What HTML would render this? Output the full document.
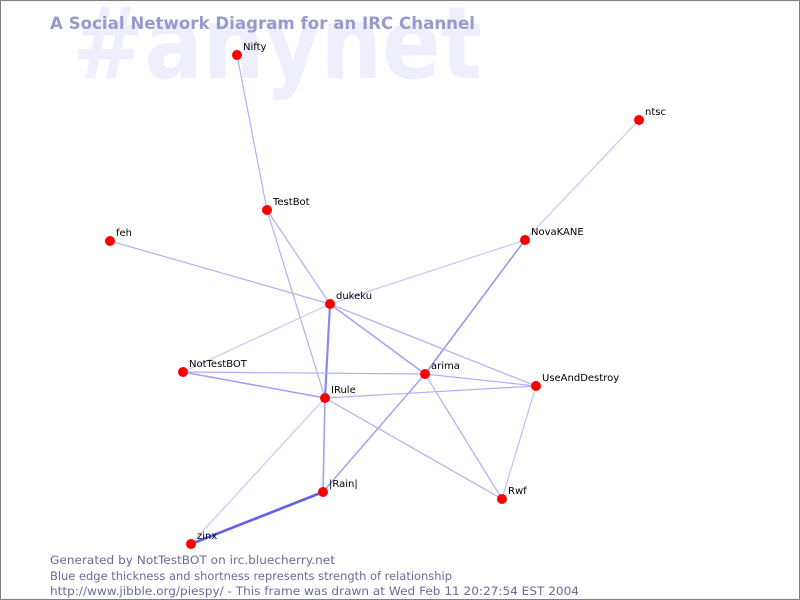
<!DOCTYPE html>
<html><head><style>
html,body{margin:0;padding:0;background:#fff;}
svg{display:block;}
text{font-family:"DejaVu Sans","Liberation Sans",sans-serif;}
</style></head><body>
<svg width="800" height="600" viewBox="0 0 800 600">
<rect x="0.5" y="0.5" width="799" height="599" fill="#fff" stroke="#808080"/>
<text x="72" y="78" font-size="100" font-weight="bold" fill="#eeeefc" textLength="410" lengthAdjust="spacingAndGlyphs">#anynet</text>
<text x="50" y="29" font-size="17" font-weight="bold" fill="#9999cc" textLength="425" lengthAdjust="spacingAndGlyphs">A Social Network Diagram for an IRC Channel</text>
<g stroke="#b0b0f4" stroke-width="1.2" fill="none">
<line x1="237" y1="55" x2="267" y2="210"/>
<line x1="639" y1="120" x2="525" y2="240" stroke="#c8c8f8"/>
<line x1="267" y1="210" x2="330" y2="304"/>
<line x1="267" y1="210" x2="325" y2="398"/>
<line x1="110" y1="241" x2="330" y2="304"/>
<line x1="525" y1="240" x2="330" y2="304" stroke="#c8c8f8"/>
<line x1="525" y1="240" x2="425" y2="374" stroke="#9898ee" stroke-width="1.6"/>
<line x1="425" y1="374" x2="323" y2="492" stroke="#a0a0f0" stroke-width="1.4"/>
<line x1="330" y1="304" x2="183" y2="372" stroke="#c8c8f8"/>
<line x1="330" y1="304" x2="325" y2="398" stroke="#8888ee" stroke-width="2.2"/>
<line x1="330" y1="304" x2="425" y2="374" stroke="#a0a0f0" stroke-width="1.5"/>
<line x1="330" y1="304" x2="536" y2="386"/>
<line x1="183" y1="372" x2="425" y2="374"/>
<line x1="183" y1="372" x2="325" y2="398" stroke="#a0a0f0" stroke-width="1.5"/>
<line x1="425" y1="374" x2="536" y2="386"/>
<line x1="425" y1="374" x2="502" y2="499"/>
<line x1="325" y1="398" x2="536" y2="386"/>
<line x1="325" y1="398" x2="502" y2="499"/>
<line x1="325" y1="398" x2="323" y2="492" stroke="#a0a0f0" stroke-width="1.6"/>
<line x1="325" y1="398" x2="191" y2="544" stroke="#c8c8f8"/>
<line x1="536" y1="386" x2="502" y2="499" stroke="#c0c0f6"/>
<line x1="323" y1="492" x2="191" y2="544" stroke="#6060ee" stroke-width="2.6"/>
</g>
<g fill="#ff0000">
<circle cx="237" cy="55" r="5"/><circle cx="639" cy="120" r="5"/>
<circle cx="267" cy="210" r="5"/><circle cx="110" cy="241" r="5"/>
<circle cx="525" cy="240" r="5"/><circle cx="330" cy="304" r="5"/>
<circle cx="183" cy="372" r="5"/><circle cx="425" cy="374" r="5"/>
<circle cx="536" cy="386" r="5"/><circle cx="325" cy="398" r="5"/>
<circle cx="323" cy="492" r="5"/><circle cx="502" cy="499" r="5"/>
<circle cx="191" cy="544" r="5"/>
</g>
<g font-size="10" fill="#000">
<text x="243" y="50">Nifty</text>
<text x="645" y="115">ntsc</text>
<text x="273" y="205">TestBot</text>
<text x="116" y="236">feh</text>
<text x="531" y="235">NovaKANE</text>
<text x="336" y="299">dukeku</text>
<text x="189" y="367">NotTestBOT</text>
<text x="431" y="369">arima</text>
<text x="542" y="381">UseAndDestroy</text>
<text x="331" y="393">IRule</text>
<text x="329" y="487">|Rain|</text>
<text x="508" y="494">Rwf</text>
<text x="197" y="539">zinx</text>
</g>
<g font-size="11.5" fill="#6a6a9a">
<text x="50" y="564" textLength="285" lengthAdjust="spacingAndGlyphs">Generated by NotTestBOT on irc.bluecherry.net</text>
<text x="50" y="580" textLength="402" lengthAdjust="spacingAndGlyphs">Blue edge thickness and shortness represents strength of relationship</text>
<text x="50" y="595" textLength="529" lengthAdjust="spacingAndGlyphs">http://www.jibble.org/piespy/ - This frame was drawn at Wed Feb 11 20:27:54 EST 2004</text>
</g>
</svg>
</body></html>
